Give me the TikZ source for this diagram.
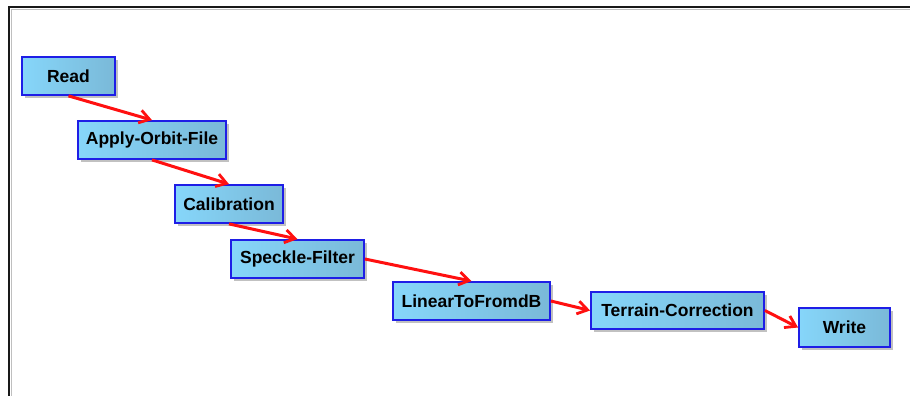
\documentclass[tikz,border=0pt]{standalone}
\usepackage{fontspec}
\setmainfont{Liberation Sans}
\usetikzlibrary{arrows.meta,shadows}
\definecolor{boxleft}{HTML}{86D6FA}
\definecolor{boxright}{HTML}{7AB9D8}
\definecolor{boxborder}{HTML}{1E1EE6}
\definecolor{arrowred}{HTML}{FF1010}
\begin{document}
\begin{tikzpicture}[x=1pt,y=-1pt,
  opbox/.style={draw=boxborder, line width=1.8pt, left color=boxleft, right color=boxright,
    minimum height=38pt, inner sep=0pt, font=\fontsize{17.5}{19}\selectfont\bfseries,
    drop shadow={shadow xshift=3pt, shadow yshift=-3pt, fill=black!30, opacity=0.8}},
  flow/.style={draw=arrowred, line width=3pt, -{Straight Barb[length=10pt,width=13pt,line width=2.8pt]}}]
\useasboundingbox (0,0) rectangle (910,396);
\fill[white] (0,0) rectangle (910,396);
\draw[black!25, line width=1pt] (11,396) -- (11,9.5) -- (910,9.5);
\draw[black!90, line width=2pt] (8.5,396) -- (8.5,7) -- (910,7);
\node[opbox, minimum width=93pt] (read) at (68.5,76) {Read};
\node[opbox, minimum width=148pt] (orbit) at (152,140) {Apply-Orbit-File};
\node[opbox, minimum width=108pt] (calib) at (229,204) {Calibration};
\node[opbox, minimum width=133pt] (speckle) at (297.5,259) {Speckle-Filter};
\node[opbox, minimum width=157pt] (lin) at (471.5,301) {LinearToFromdB};
\node[opbox, minimum width=173pt, minimum height=37pt] (terrain) at (677.5,310.5) {Terrain-Correction};
\node[opbox, minimum width=91pt, minimum height=39pt] (write) at (844.5,327.5) {Write};
\draw[flow] (read.south) -- (orbit.north);
\draw[flow] (orbit.south) -- (calib.north);
\draw[flow] (calib.south) -- (speckle.north);
\draw[flow] (speckle.east) -- (lin.north);
\draw[flow] (lin.east) -- (terrain.west);
\draw[flow] (terrain.east) -- (write.west);
\end{tikzpicture}
\end{document}
